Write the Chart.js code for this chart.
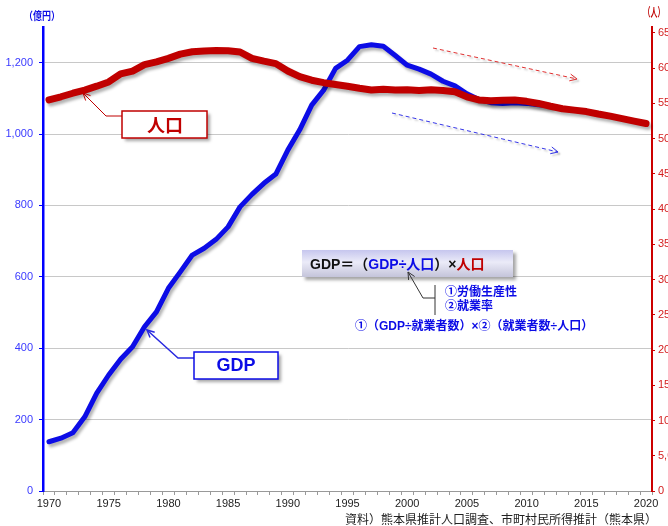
<!DOCTYPE html>
<html>
<head>
<meta charset="utf-8">
<script src="https://cdn.jsdelivr.net/npm/chart.js@4.4.1/dist/chart.umd.min.js"></script>
<style>
  html, body { margin: 0; padding: 0; background: #fff; overflow: hidden; }
  #wrap { width: 700px; height: 526px; }
</style>
</head>
<body>
<div id="wrap"><canvas id="myChart" width="700" height="526"></canvas></div>
<script>
// 年（横軸）
const years = [
  1970, 1971, 1972, 1973, 1974, 1975, 1976, 1977, 1978, 1979,
  1980, 1981, 1982, 1983, 1984, 1985, 1986, 1987, 1988, 1989,
  1990, 1991, 1992, 1993, 1994, 1995, 1996, 1997, 1998, 1999,
  2000, 2001, 2002, 2003, 2004, 2005, 2006, 2007, 2008, 2009,
  2010, 2011, 2012, 2013, 2014, 2015, 2016, 2017, 2018, 2019,
  2020,
];

// GDP（億円） 1970 - 2012
const gdpValues = [
  138, 148, 163, 208, 274, 325, 369, 404, 460, 502,
  568, 614, 661, 680, 705, 740, 796, 831, 862, 888,
  955, 1012, 1081, 1123, 1184, 1207, 1245, 1250, 1246, 1220,
  1193, 1182, 1168, 1148, 1135, 1113, 1097, 1088, 1086, 1088,
  1086, 1082, 1080,
];

// 人口（人） 1970 - 2020
const popValues = [
  55500, 55950, 56450, 56900, 57450, 58050, 59200, 59600, 60500, 60900,
  61400, 62000, 62340, 62450, 62500, 62480, 62300, 61400, 61000, 60650,
  59600, 58800, 58300, 57950, 57700, 57450, 57150, 56900, 57000, 56900,
  56950, 56850, 56950, 56850, 56650, 55950, 55500, 55400, 55450, 55480,
  55300, 55000, 54600, 54250, 54050, 53850, 53500, 53200, 52850, 52500,
  52150,
];

// axis ticks
const gdpTicks = [0, 200, 400, 600, 800, 1000, 1200];
const popTicks = [
  0, 5000, 10000, 15000, 20000, 25000, 30000, 35000, 40000, 45000,
  50000, 55000, 60000, 65000,
];

const jpFont = "'Liberation Sans', 'Noto Sans CJK JP', sans-serif";
const blue = "#0c0ce6";
const red = "#c00000";

// line shadow
const shadowPlugin = {
  id: "lineShadow",
  beforeDatasetDraw: (chart) => {
    const ctx = chart.ctx;
    ctx.save();
    ctx.shadowColor = "rgba(0,0,0,0.3)";
    ctx.shadowBlur = 3;
    ctx.shadowOffsetX = 2;
    ctx.shadowOffsetY = 3;
  },
  afterDatasetDraw: (chart) => {
    chart.ctx.restore();
  },
};

const arrowHead = (ctx, fx, fy, tx, ty, size) => {
  const ang = Math.atan2(ty - fy, tx - fx);
  ctx.beginPath();
  ctx.moveTo(tx - size * Math.cos(ang - 0.45), ty - size * Math.sin(ang - 0.45));
  ctx.lineTo(tx, ty);
  ctx.lineTo(tx - size * Math.cos(ang + 0.45), ty - size * Math.sin(ang + 0.45));
  ctx.stroke();
};

const labelBox = (ctx, x, y, w, h, border, fill) => {
  ctx.save();
  ctx.shadowColor = "rgba(0,0,0,0.35)";
  ctx.shadowBlur = 3;
  ctx.shadowOffsetX = 3;
  ctx.shadowOffsetY = 3;
  ctx.fillStyle = fill;
  ctx.fillRect(x, y, w, h);
  ctx.restore();
  if (border) {
    ctx.strokeStyle = border;
    ctx.lineWidth = 1.5;
    ctx.strokeRect(x, y, w, h);
  }
};

// draw coloured pieces of text in a row, squeezed to a width
const drawSegments = (ctx, segs, x, y, font, width) => {
  ctx.font = font;
  let total = 0;
  segs.forEach((s) => (total += ctx.measureText(s[0]).width));
  const sx = width ? Math.min(1, width / total) : 1;
  ctx.save();
  ctx.translate(x, y);
  ctx.scale(sx, 1);
  let cx = 0;
  segs.forEach(([text, color]) => {
    ctx.fillStyle = color;
    ctx.fillText(text, cx, 0);
    cx += ctx.measureText(text).width;
  });
  ctx.restore();
};

const notesPlugin = {
  id: "notes",
  afterDraw: (chart) => {
    const ctx = chart.ctx;
    ctx.save();
    ctx.textBaseline = "middle";

    // axis titles
    ctx.textAlign = "center";
    ctx.font = "bold 11px " + jpFont;
    ctx.fillStyle = blue;
    ctx.fillText("（億円）", 42, 17, 36);
    ctx.font = "bold 12px " + jpFont;
    ctx.fillStyle = red;
    ctx.fillText("（人）", 654, 14, 21);

    // source
    ctx.textAlign = "left";
    ctx.font = "12px 'Noto Sans CJK JP', sans-serif";
    ctx.fillStyle = "#222";
    ctx.fillText("資料）熊本県推計人口調査、市町村民所得推計（熊本県）", 345, 519, 322);

    // 人口 label
    ctx.lineWidth = 1;
    ctx.strokeStyle = red;
    ctx.beginPath();
    ctx.moveTo(122, 116);
    ctx.lineTo(106, 116);
    ctx.lineTo(83, 93);
    ctx.stroke();
    arrowHead(ctx, 106, 116, 83, 93, 8);
    labelBox(ctx, 122, 111, 85, 27, red, "#fff");
    ctx.textAlign = "center";
    ctx.font = "bold 18px 'Noto Sans CJK JP', sans-serif";
    ctx.fillStyle = red;
    ctx.fillText("人口", 165, 125);

    // GDP label
    ctx.strokeStyle = "#2a2ae0";
    ctx.beginPath();
    ctx.moveTo(194, 358);
    ctx.lineTo(178, 358);
    ctx.lineTo(147, 330);
    ctx.stroke();
    arrowHead(ctx, 178, 358, 147, 330, 8);
    labelBox(ctx, 194, 352, 84, 27, blue, "#fff");
    ctx.font = "bold 18px 'Liberation Sans', sans-serif";
    ctx.fillStyle = blue;
    ctx.fillText("GDP", 236, 366);

    // formula box
    const g = ctx.createLinearGradient(0, 250, 0, 277);
    g.addColorStop(0, "#c6c6ee");
    g.addColorStop(0.45, "#ebebf8");
    g.addColorStop(1, "#c4c4da");
    labelBox(ctx, 302, 250, 211, 27, null, g);
    ctx.textAlign = "left";
    drawSegments(
      ctx,
      [
        ["GDP＝（", "#111"],
        ["GDP÷人口", blue],
        ["）×", "#111"],
        ["人口", red],
      ],
      310,
      265,
      "bold 14px " + jpFont,
      188
    );

    // bracket + arrow to ÷
    ctx.strokeStyle = "#333";
    ctx.lineWidth = 1;
    ctx.beginPath();
    ctx.moveTo(435, 285);
    ctx.lineTo(435, 315);
    ctx.moveTo(435, 298);
    ctx.lineTo(423, 298);
    ctx.lineTo(408, 272);
    ctx.stroke();
    arrowHead(ctx, 423, 298, 408, 272, 8);

    ctx.fillStyle = blue;
    ctx.font = "bold 12px " + jpFont;
    ctx.fillText("①労働生産性", 445, 293, 74);
    ctx.fillText("②就業率", 445, 307, 50);
    ctx.fillText("①（GDP÷就業者数）×②（就業者数÷人口）", 355, 327, 242);

    // dashed trend arrows
    const dashed = (x1, y1, x2, y2, color) => {
      ctx.save();
      ctx.shadowColor = "rgba(0,0,0,0.25)";
      ctx.shadowBlur = 2;
      ctx.shadowOffsetX = 2;
      ctx.shadowOffsetY = 2;
      ctx.strokeStyle = color;
      ctx.lineWidth = 1;
      ctx.setLineDash([4, 3]);
      ctx.beginPath();
      ctx.moveTo(x1, y1);
      ctx.lineTo(x2, y2);
      ctx.stroke();
      ctx.setLineDash([]);
      arrowHead(ctx, x1, y1, x2, y2, 8);
      ctx.restore();
    };
    dashed(433, 48, 577, 79, "#e03030");
    dashed(392, 113, 558, 152, "#3535e8");

    ctx.restore();
  },
};

const myChart = new Chart(document.getElementById("myChart"), {
  type: "line",
  data: {
    labels: years,
    datasets: [
      {
        label: "人口",
        data: popValues,
        yAxisID: "yPop",
        borderColor: red,
        borderWidth: 7,
        pointRadius: 0,
        tension: 0,
        borderCapStyle: "round",
        borderJoinStyle: "round",
        order: 0,
      },
      {
        label: "GDP",
        data: gdpValues,
        yAxisID: "yGdp",
        borderColor: blue,
        borderWidth: 5,
        pointRadius: 0,
        tension: 0,
        borderCapStyle: "round",
        borderJoinStyle: "round",
        order: 1,
      },
    ],
  },
  options: {
    responsive: false,
    animation: false,
    layout: { padding: { top: 27, bottom: 15, left: 0, right: 0 } },
    plugins: {
      legend: { display: false },
      tooltip: { enabled: false },
    },
    scales: {
      x: {
        offset: true,
        grid: {
          drawOnChartArea: false,
          offset: true,
          color: "#999",
          tickLength: 4,
        },
        border: { color: "#999", width: 1 },
        ticks: {
          autoSkip: false,
          maxRotation: 0,
          padding: 2,
          color: "#222",
          font: { size: 11, family: "'Liberation Sans', sans-serif" },
          callback: (v, i) => (years[i] % 5 === 0 ? String(years[i]) : ""),
        },
        afterFit: (s) => {
          s.height = 20;
        },
      },
      yGdp: {
        position: "left",
        min: 0,
        max: 1300,
        ticks: {
          padding: 6,
          autoSkip: false,
          color: "#3a3aff",
          font: { size: 11, family: "'Liberation Sans', sans-serif" },
          callback: (v) => v.toLocaleString("en-US"),
        },
        grid: { color: "#c8c8c8", tickColor: "#0000ff", tickLength: 4 },
        border: { color: "#0000ff", width: 2.5 },
        afterBuildTicks: (s) => {
          s.ticks = gdpTicks.map((v) => ({ value: v }));
        },
        afterFit: (s) => {
          s.width = 43;
        },
      },
      yPop: {
        position: "right",
        min: 0,
        max: 65850,
        ticks: {
          padding: 3,
          autoSkip: false,
          color: "#d42020",
          font: { size: 11, family: "'Liberation Sans', sans-serif" },
          callback: (v) => v.toLocaleString("en-US"),
        },
        grid: { drawOnChartArea: false, color: "#cc0000", tickLength: 3 },
        border: { color: "#cc0000", width: 2 },
        afterBuildTicks: (s) => {
          s.ticks = popTicks.map((v) => ({ value: v }));
        },
        afterFit: (s) => {
          s.width = 48;
        },
      },
    },
  },
  plugins: [shadowPlugin, notesPlugin],
});
</script>
</body>
</html>
